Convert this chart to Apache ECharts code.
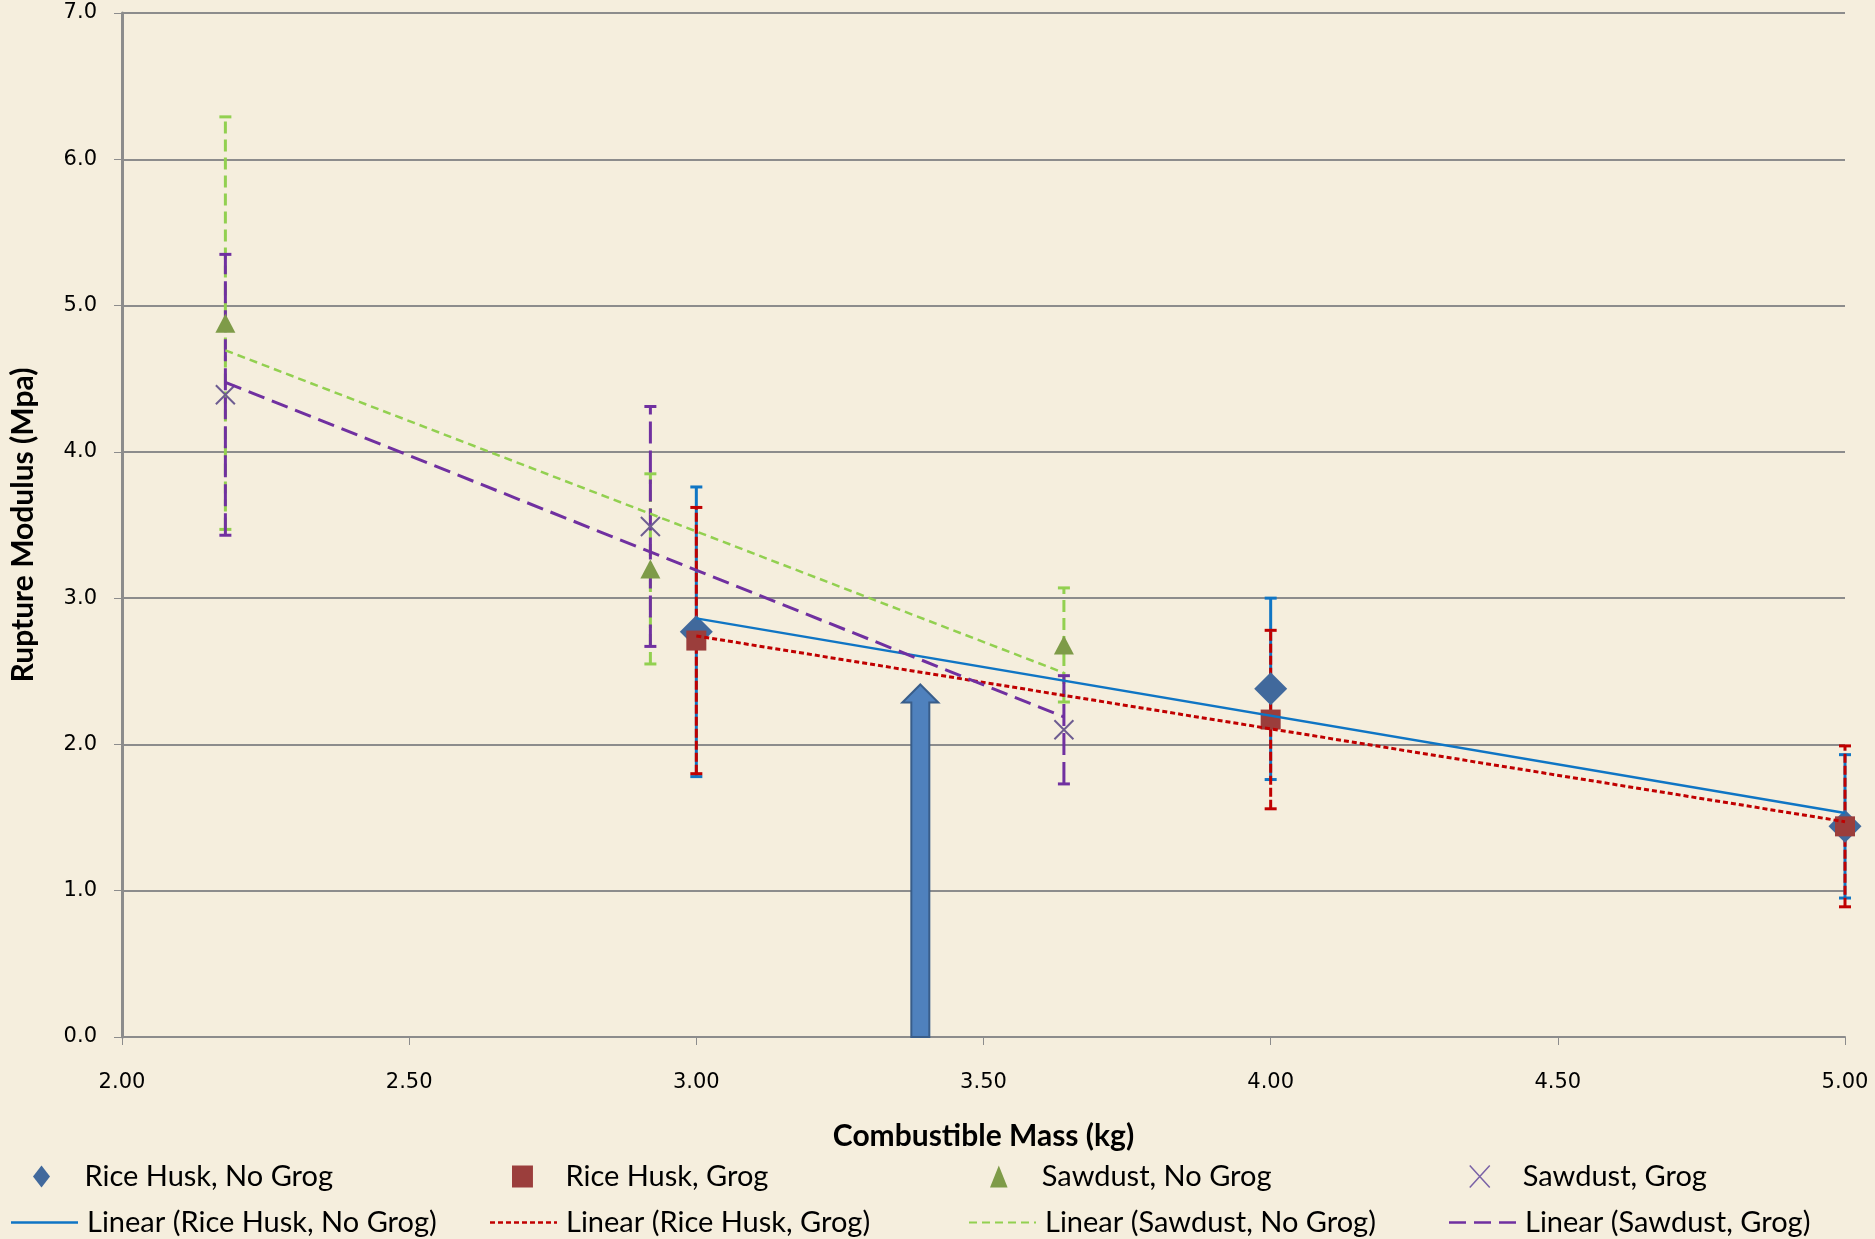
<!DOCTYPE html>
<html>
<head>
<meta charset="utf-8">
<script src="https://cdn.jsdelivr.net/npm/echarts@6/dist/echarts.min.js"></script>
<style>
  html, body { margin: 0; padding: 0; background: #f5eedd; }
  #chart { width: 1875px; height: 1239px; }
</style>
</head>
<body>
<div id="chart"></div>
<script>
// Combustible mass (kg) for each material
const riceHuskMass = [3.00, 4.00, 5.00];
const sawdustMass = [2.18, 2.92, 3.64];

// Rupture modulus means (MPa) and error-bar half-widths
const riceHuskNoGrog = [2.77, 2.38, 1.44];
const riceHuskNoGrogErr = [0.99, 0.62, 0.49];
const riceHuskGrog = [2.71, 2.17, 1.44];
const riceHuskGrogErr = [0.91, 0.61, 0.55];
const sawdustNoGrog = [4.88, 3.20, 2.68];
const sawdustNoGrogErr = [1.41, 0.65, 0.39];
const sawdustGrog = [4.39, 3.49, 2.10];
const sawdustGrogErr = [0.96, 0.82, 0.37];

// Annotation arrow: position on the mass axis and height of its tip
const arrowTip = [3.39, 2.41];

// Series names
const seriesNames = ['Rice Husk, No Grog', 'Rice Husk, Grog', 'Sawdust, No Grog', 'Sawdust, Grog'];
const trendNames = seriesNames.map(n => 'Linear (' + n + ')');

const FONT = 'Lato';
const BLACK = '#000000';
const COLORS = {
  rhNoGrog: '#0f75c4', rhGrog: '#c00000', sdNoGrog: '#92d050', sdGrog: '#7030a0'
};

// Least-squares straight line over the span of the data
function linearFit(xs, ys) {
  const n = xs.length;
  const mx = xs.reduce((a, b) => a + b, 0) / n;
  const my = ys.reduce((a, b) => a + b, 0) / n;
  let sxy = 0, sxx = 0;
  for (let i = 0; i < n; i++) {
    sxy += (xs[i] - mx) * (ys[i] - my);
    sxx += (xs[i] - mx) * (xs[i] - mx);
  }
  const slope = sxy / sxx;
  const x0 = Math.min(...xs), x1 = Math.max(...xs);
  return [[x0, my + slope * (x0 - mx)], [x1, my + slope * (x1 - mx)]];
}

function pairs(xs, ys) { return xs.map((x, i) => [x, ys[i]]); }

function errorBars(name, xs, ys, errs, color, dash, z) {
  return {
    type: 'custom',
    name: name + ' error',
    silent: true,
    z: z,
    data: xs.map((x, i) => [x, ys[i] - errs[i], ys[i] + errs[i]]),
    encode: { x: 0, y: [1, 2] },
    renderItem: function (params, api) {
      const x = api.value(0);
      const lo = api.coord([x, api.value(1)]);
      const hi = api.coord([x, api.value(2)]);
      const cap = 6;
      return {
        type: 'group',
        children: [
          { type: 'line', shape: { x1: lo[0], y1: lo[1], x2: hi[0], y2: hi[1] },
            style: { stroke: color, lineWidth: 3, lineDash: dash, fill: null } },
          { type: 'line', shape: { x1: hi[0] - cap, y1: hi[1], x2: hi[0] + cap, y2: hi[1] },
            style: { stroke: color, lineWidth: 3, fill: null } },
          { type: 'line', shape: { x1: lo[0] - cap, y1: lo[1], x2: lo[0] + cap, y2: lo[1] },
            style: { stroke: color, lineWidth: 3, fill: null } }
        ]
      };
    }
  };
}

function trendLine(name, xs, ys, color, width, dash, z) {
  return {
    type: 'line',
    name: name,
    data: linearFit(xs, ys),
    symbol: 'none',
    silent: true,
    z: z,
    itemStyle: { color: color },
    lineStyle: { color: color, width: width, type: dash }
  };
}

// Legend key for a trend line: a row of filled dashes, 67 units long
function dashIcon(dash, gap, thick) {
  const total = 67;
  let d = '';
  for (let x = 0; x < total; x += dash + gap) {
    const w = Math.min(dash, total - x);
    d += 'M' + x + ',0h' + w + 'v' + thick + 'h' + (-w) + 'Z';
  }
  return 'path://' + d;
}

const X_PATH = 'path://M0,0L10,10M10,0L0,10';

const legendText = { fontFamily: FONT, fontSize: 29, color: BLACK };

// marker keys (top row) and trend-line keys (bottom row)
const markerKeys = [
  { name: seriesNames[0], icon: 'path://M0,-1.1L0.85,0L0,1.1L-0.85,0Z' },
  { name: seriesNames[1], icon: 'path://M0,0L1,0L1,1.05L0,1.05Z' },
  { name: seriesNames[2], icon: 'path://M0,-1L0.8,1L-0.8,1Z' },
  { name: seriesNames[3], icon: 'path://M0,0L10,11M10,0L0,11',
    itemStyle: { color: 'transparent', borderColor: '#7a62a6', borderWidth: 1.5 } }
];
const lineKeys = [
  { name: trendNames[0], icon: 'path://M0,0H67V2.5H0Z', itemStyle: { color: COLORS.rhNoGrog } },
  { name: trendNames[1], icon: dashIcon(5, 3, 2.5), itemStyle: { color: COLORS.rhGrog } },
  { name: trendNames[2], icon: dashIcon(8, 5, 2.2), itemStyle: { color: COLORS.sdNoGrog } },
  { name: trendNames[3], icon: dashIcon(17, 8, 2.7), itemStyle: { color: COLORS.sdGrog } }
];
const markerTextX = [87, 566, 1044, 1523];
const lineTextX = [87, 566, 1045, 1525];

const legends = [];
markerKeys.forEach((item, i) => {
  legends.push({
    data: [item], orient: 'horizontal', left: markerTextX[i] - 54, top: 1162,
    padding: 0, itemWidth: 22, itemHeight: 22, selectedMode: false,
    textStyle: Object.assign({ padding: [0, 0, 0, 27] }, legendText)
  });
});
lineKeys.forEach((item, i) => {
  legends.push({
    data: [item], orient: 'horizontal', left: lineTextX[i] - 76, top: 1208,
    padding: 0, itemWidth: 67, itemHeight: 18, selectedMode: false,
    textStyle: Object.assign({ padding: [0, 0, 0, 4] }, legendText)
  });
});

const chart = echarts.init(document.getElementById('chart'), null, { renderer: 'canvas' });

chart.setOption({
  backgroundColor: '#f5eedd',
  animation: false,
  grid: { left: 122, right: 30, top: 13, bottom: 202, containLabel: false },
  xAxis: {
    type: 'value',
    min: 2, max: 5, interval: 0.5,
    name: 'Combustible Mass (kg)',
    nameLocation: 'middle',
    nameGap: 84,
    nameTextStyle: { fontFamily: FONT, fontWeight: 'bold', fontSize: 30, color: BLACK },
    axisLine: { show: true, onZero: false, lineStyle: { color: '#8c8c8c', width: 2 } },
    axisTick: { show: true, inside: false, length: 8, lineStyle: { color: '#8c8c8c', width: 1 } },
    axisLabel: { margin: 35, fontFamily: 'DejaVu Sans', fontSize: 21, color: BLACK,
      formatter: v => v.toFixed(2) },
    splitLine: { show: false }
  },
  yAxis: {
    type: 'value',
    min: 0, max: 7, interval: 1,
    name: 'Rupture Modulus (Mpa)',
    nameLocation: 'middle',
    nameGap: 84,
    nameRotate: 90,
    nameTextStyle: { fontFamily: FONT, fontWeight: 'bold', fontSize: 30, color: BLACK },
    axisLine: { show: true, lineStyle: { color: '#8c8c8c', width: 3 } },
    axisTick: { show: true, inside: false, length: 8, lineStyle: { color: '#8c8c8c', width: 1 } },
    axisLabel: { margin: 25, fontFamily: 'DejaVu Sans', fontSize: 21, color: BLACK,
      formatter: v => v.toFixed(1) },
    splitLine: { show: true, lineStyle: { color: '#8c8c8c', width: 2 } }
  },
  legend: legends,
  series: [
    // error bars
    errorBars(seriesNames[0], riceHuskMass, riceHuskNoGrog, riceHuskNoGrogErr, COLORS.rhNoGrog, null, 2),
    errorBars(seriesNames[1], riceHuskMass, riceHuskGrog, riceHuskGrogErr, COLORS.rhGrog, [9, 3], 2),
    errorBars(seriesNames[2], sawdustMass, sawdustNoGrog, sawdustNoGrogErr, COLORS.sdNoGrog, [12, 6], 2),
    errorBars(seriesNames[3], sawdustMass, sawdustGrog, sawdustGrogErr, COLORS.sdGrog, [22, 7], 2),
    // markers
    { type: 'scatter', name: seriesNames[0], z: 3, symbol: 'diamond', symbolSize: 33,
      data: pairs(riceHuskMass, riceHuskNoGrog), itemStyle: { color: '#41699c', opacity: 1 } },
    { type: 'scatter', name: seriesNames[1], z: 3, symbol: 'rect', symbolSize: 20,
      data: pairs(riceHuskMass, riceHuskGrog), itemStyle: { color: '#9b3e3c', opacity: 1 } },
    { type: 'scatter', name: seriesNames[2], z: 3, symbol: 'triangle', symbolSize: [20, 19],
      data: pairs(sawdustMass, sawdustNoGrog), itemStyle: { color: '#7e9b48', opacity: 1 } },
    { type: 'scatter', name: seriesNames[3], z: 3, symbol: X_PATH, symbolSize: 19,
      data: pairs(sawdustMass, sawdustGrog),
      itemStyle: { color: 'transparent', borderColor: '#6d5c91', borderWidth: 2, opacity: 1 } },
    // linear trends
    trendLine(trendNames[0], riceHuskMass, riceHuskNoGrog, COLORS.rhNoGrog, 2.5, 'solid', 4),
    trendLine(trendNames[1], riceHuskMass, riceHuskGrog, COLORS.rhGrog, 3, [5, 3], 4),
    trendLine(trendNames[2], sawdustMass, sawdustNoGrog, COLORS.sdNoGrog, 2.5, [8, 5], 4),
    trendLine(trendNames[3], sawdustMass, sawdustGrog, COLORS.sdGrog, 3, [17, 8], 4),
    // block arrow pointing up from the mass axis
    {
      type: 'custom',
      name: 'arrow',
      silent: true,
      z: 5,
      data: [arrowTip],
      encode: { x: 0, y: 1 },
      renderItem: function (params, api) {
        const tip = api.coord([api.value(0), api.value(1)]);
        const base = api.coord([api.value(0), 0]);
        const cx = tip[0];
        const shaft = 9, head = 18, headH = 18;
        const pts = [
          [cx, tip[1]],
          [cx + head, tip[1] + headH],
          [cx + shaft, tip[1] + headH],
          [cx + shaft, base[1]],
          [cx - shaft, base[1]],
          [cx - shaft, tip[1] + headH],
          [cx - head, tip[1] + headH]
        ];
        return {
          type: 'polygon',
          shape: { points: pts },
          style: { fill: '#4f81bd', stroke: '#385d8a', lineWidth: 2, lineJoin: 'miter' }
        };
      }
    }
  ]
});
</script>
</body>
</html>
